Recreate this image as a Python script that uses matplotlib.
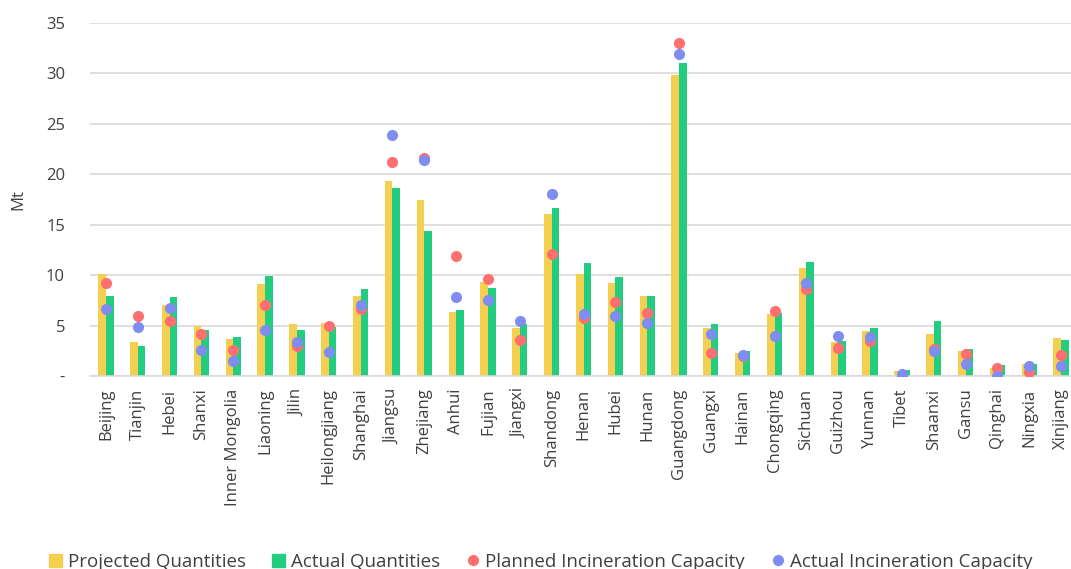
import matplotlib
matplotlib.use("Agg")
import matplotlib.pyplot as plt
import numpy as np
from matplotlib.lines import Line2D
from matplotlib.patches import Patch

provinces = ["Beijing", "Tianjin", "Hebei", "Shanxi", "Inner Mongolia", "Liaoning", "Jilin",
             "Heilongjiang", "Shanghai", "Jiangsu", "Zhejiang", "Anhui", "Fujian", "Jiangxi",
             "Shandong", "Henan", "Hubei", "Hunan", "Guangdong", "Guangxi", "Hainan",
             "Chongqing", "Sichuan", "Guizhou", "Yunnan", "Tibet", "Shaanxi", "Gansu",
             "Qinghai", "Ningxia", "Xinjiang"]

projected = [10.1, 3.4, 7.0, 4.95, 3.65, 9.15, 5.2, 5.25, 7.95, 19.3, 17.45, 6.35, 9.3, 4.75,
             16.05, 10.15, 9.2, 7.95, 29.85, 4.75, 2.25, 6.15, 10.7, 3.35, 4.45, 0.45,
             4.15, 2.5, 0.8, 1.15, 3.75]
actual = [7.95, 3.0, 7.8, 4.55, 3.85, 9.9, 4.6, 4.9, 8.6, 18.65, 14.35, 6.55, 8.75, 5.2,
          16.7, 11.25, 9.8, 7.95, 31.0, 5.15, 2.5, 6.25, 11.3, 3.5, 4.8, 0.55,
          5.45, 2.65, 1.1, 1.2, 3.55]
planned_cap = [9.2, 5.95, 5.45, 4.15, 2.55, 7.05, 3.0, 4.95, 6.65, 21.2, 21.6, 11.9, 9.65, 3.55,
               12.1, 5.8, 7.35, 6.25, 33.0, 2.25, 2.0, 6.45, 8.6, 2.8, 3.5, 0.0,
               2.7, 2.15, 0.75, 0.35, 2.1]
actual_cap = [6.6, 4.9, 6.7, 2.6, 1.5, 4.55, 3.4, 2.35, 7.05, 23.9, 21.4, 7.85, 7.55, 5.5,
              18.05, 6.1, 5.9, 5.3, 31.95, 4.2, 2.1, 4.0, 9.2, 4.0, 3.9, 0.2,
              2.5, 1.15, 0.0, 1.0, 1.0]

yticks = [0, 5, 10, 15, 20, 25, 30, 35]
ytick_labels = ["-", "5", "10", "15", "20", "25", "30", "35"]

c_proj = "#F5CF4F"
c_act = "#22CD80"
c_plan = "#FF6F6F"
c_acap = "#7F8CF0"
grid_c = "#D9D9D9"
text_c = "#404040"

plt.rcParams["font.family"] = ["Open Sans", "DejaVu Sans"]

fig = plt.figure(figsize=(10.71, 5.69), dpi=100)
ax = fig.add_axes([90 / 1071, 1 - 376 / 569, 987 / 1071, 353 / 569])

x = np.arange(len(provinces))
w = 0.24
ax.bar(x - w / 2, projected, width=w, color=c_proj, zorder=2)
ax.bar(x + w / 2, actual, width=w, color=c_act, zorder=2)
ax.scatter(x, planned_cap, s=64, color=c_plan, zorder=3, linewidths=0)
ax.scatter(x, actual_cap, s=64, color=c_acap, zorder=4, linewidths=0)

ax.set_xlim(-0.5, len(provinces) - 0.5)
ax.set_ylim(0, 35)
ax.set_yticks(yticks)
ax.set_yticklabels(ytick_labels, fontsize=12, color=text_c)
ax.set_xticks(x)
ax.set_xticklabels(provinces, rotation=90, fontsize=12, color=text_c)
ax.tick_params(axis="both", length=0)
ax.tick_params(axis="y", pad=18)
ax.tick_params(axis="x", pad=9)
ax.grid(axis="y", color=grid_c, linewidth=1.2, zorder=0)
ax.set_axisbelow(True)
for s in ["top", "right", "left"]:
    ax.spines[s].set_visible(False)
ax.spines["bottom"].set_color(grid_c)
ax.spines["bottom"].set_linewidth(1.2)
ax.set_ylabel("Mt", fontsize=12, color=text_c, labelpad=14)

handles = [
    Patch(color=c_proj, label="Projected Quantities"),
    Patch(color=c_act, label="Actual Quantities"),
    Line2D([], [], marker="o", linestyle="none", color=c_plan, markersize=7, label="Planned Incineration Capacity"),
    Line2D([], [], marker="o", linestyle="none", color=c_acap, markersize=7, label="Actual Incineration Capacity"),
]
fig.legend(handles=handles, loc="lower center", bbox_to_anchor=(0.505, -0.033), ncol=4,
           frameon=False, fontsize=13.5, handlelength=0.7, handleheight=0.7,
           handletextpad=0.3, columnspacing=1.4, labelcolor=text_c)

fig.savefig("out.png", dpi=100)
